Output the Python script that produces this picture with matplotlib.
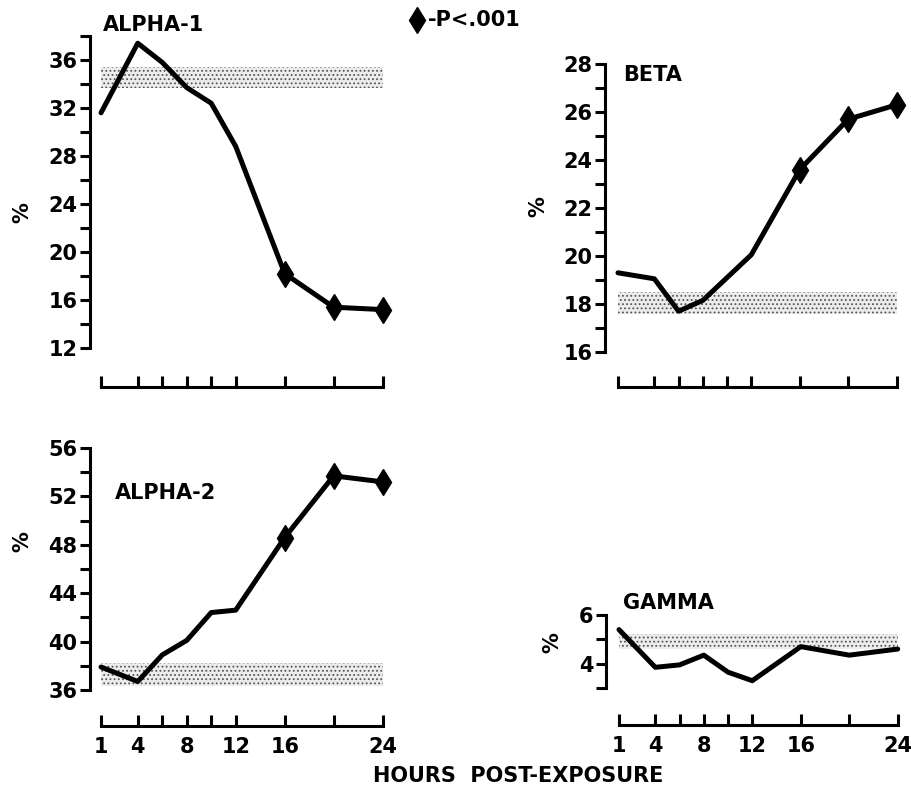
import matplotlib
matplotlib.use("Agg")
import matplotlib.pyplot as plt
from matplotlib.lines import Line2D

# ---- data ----
hours = [1, 4, 6, 8, 10, 12, 16, 20, 24]
hour_tick_labels = ["1", "4", "", "8", "", "12", "16", "", "24"]

alpha1 = [31.6, 37.4, 35.8, 33.7, 32.4, 28.8, 18.2, 15.4, 15.2]
beta = [19.3, 19.05, 17.7, 18.15, 19.1, 20.05, 23.6, 25.7, 26.3]
alpha2 = [37.9, 36.7, 38.9, 40.1, 42.4, 42.6, 48.6, 53.7, 53.2]
gamma = [5.4, 3.85, 3.95, 4.35, 3.65, 3.3, 4.7, 4.35, 4.6]

sig_hours = [16, 20, 24]

alpha1_band = (33.7, 35.4)
beta_band = (17.6, 18.5)
alpha2_band = (36.3, 38.2)
gamma_band = (4.6, 5.2)
band_hours = (1, 24)

alpha1_yticks = [12, 16, 20, 24, 28, 32, 36]
beta_yticks = [16, 18, 20, 22, 24, 26, 28]
alpha2_yticks = [36, 40, 44, 48, 52, 56]
gamma_yticks = [4, 6]

plt.rcParams['font.family'] = ['DejaVu Sans']
plt.rcParams['font.weight'] = 'bold'
plt.rcParams['hatch.linewidth'] = 0.8

W, H = 912, 796
fig = plt.figure(figsize=(W / 100, H / 100), dpi=100)
fig.patch.set_facecolor('white')

FS = 15
LW = 3.6
SP = 2.2


def px_axes(left, bottom_px_from_top, width, height):
    return fig.add_axes([left / W, 1 - bottom_px_from_top / H, width / W, height / H])


def panel(ax, y, band, ylim, yticks, yminor, xlim, outward, labels):
    ax.set_xlim(*xlim)
    ax.set_ylim(*ylim)
    ax.fill_between(band_hours, band[0], band[1], facecolor='#ececec',
                    edgecolor='#555555', hatch='....', linewidth=0, zorder=1)
    ax.plot(hours, y, color='black', lw=LW, solid_joinstyle='round',
            solid_capstyle='round', zorder=3, clip_on=False)
    for spine in ['top', 'right']:
        ax.spines[spine].set_visible(False)
    ax.spines['left'].set_bounds(*ylim)
    ax.spines['left'].set_linewidth(SP)
    ax.spines['bottom'].set_position(('outward', outward))
    ax.spines['bottom'].set_bounds(hours[0], hours[-1])
    ax.spines['bottom'].set_linewidth(SP)
    ax.set_yticks(yticks)
    ax.set_yticks(yminor, minor=True)
    ax.tick_params(axis='y', which='both', direction='out', length=7,
                   width=SP, labelsize=FS, pad=2)
    ax.set_xticks(hours)
    if labels:
        ax.set_xticklabels(hour_tick_labels, fontsize=FS, fontweight='bold')
    else:
        ax.set_xticklabels([])
    ax.tick_params(axis='x', which='both', direction='in', length=8,
                   width=SP, pad=8)
    ax.patch.set_alpha(0)


def mark_sig(ax, y):
    xs = [h for h in hours if h in sig_hours]
    ys = [v for h, v in zip(hours, y) if h in sig_hours]
    ax.plot(xs, ys, linestyle='none', marker='d', markersize=13,
            color='black', zorder=4, clip_on=False)


# ALPHA-1
ax1 = px_axes(90, 348, 300, 312)
panel(ax1, alpha1, alpha1_band, (12, 38), alpha1_yticks,
      [14, 18, 22, 26, 30, 34, 38], (0.1, 24.6), 28, False)
mark_sig(ax1, alpha1)

# BETA
ax2 = px_axes(605, 352, 299, 288)
panel(ax2, beta, beta_band, (16, 28), beta_yticks,
      [17, 19, 21, 23, 25, 27], (-0.07, 24.6), 25, False)
mark_sig(ax2, beta)

# ALPHA-2
ax3 = px_axes(90, 690, 300, 242)
panel(ax3, alpha2, alpha2_band, (36, 56), alpha2_yticks,
      [38, 42, 46, 50, 54], (0.1, 24.6), 26, True)
mark_sig(ax3, alpha2)

# GAMMA
ax4 = px_axes(606, 688, 299, 73)
panel(ax4, gamma, gamma_band, (3, 6), gamma_yticks,
      [3, 5], (-0.07, 24.6), 26.5, True)


def ftext(x, y, s, **kw):
    fig.text(x / W, 1 - y / H, s, fontsize=kw.pop('fontsize', FS),
             fontweight='bold', **kw)


ftext(103, 25, "ALPHA-1", ha='left', va='center')
ftext(623, 75, "BETA", ha='left', va='center')
ftext(115, 493, "ALPHA-2", ha='left', va='center')
ftext(623, 603, "GAMMA", ha='left', va='center')

for (x, y) in [(22, 213), (538, 207), (22, 542), (552, 643)]:
    ftext(x, y, "%", ha='center', va='center', rotation=90)

ftext(518, 776, "HOURS  POST-EXPOSURE", ha='center', va='center')

# significance key
fig.add_artist(Line2D([417 / W], [1 - 20 / H], marker='d', markersize=13,
                      color='black', linestyle='none',
                      transform=fig.transFigure))
ftext(428, 20, "-P<.001", ha='left', va='center')

fig.savefig("out.png", dpi=100, facecolor='white')
